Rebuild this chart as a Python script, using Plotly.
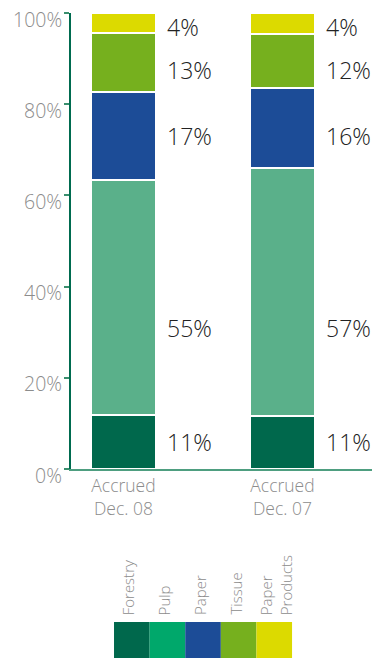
import plotly.graph_objects as go

# ---------------- data ----------------
categories = ["Accrued<br>Dec. 08", "Accrued<br>Dec. 07"]
segments = ["Forestry", "Pulp", "Paper", "Tissue", "Paper<br>Products"]
share_dec08 = [11.8, 51.6, 19.3, 12.9, 4.4]
share_dec07 = [11.7, 54.4, 17.5, 11.8, 4.6]
label_dec08 = ["11%", "55%", "17%", "13%", "4%"]
label_dec07 = ["11%", "57%", "16%", "12%", "4%"]
tick_vals = [0, 20, 40, 60, 80, 100]
tick_text = ["0%", "20%", "40%", "60%", "80%", "100%"]

# ---------------- style ----------------
bar_colors = ["#00684C", "#5AB08A", "#1C4C97", "#76B01E", "#DCDA00"]
legend_colors = ["#00684C", "#00A86B", "#1C4C97", "#76B01E", "#DCDA00"]
FONT = "Open Sans, Liberation Sans, Arial, sans-serif"
GRAY = "#8C8C8C"
label_yshift = [0, -33, -4, -8, -4]

fig = go.Figure()
series = [share_dec08, share_dec07]
for i, seg in enumerate(segments):
    fig.add_trace(go.Bar(
        x=categories,
        y=[s[i] for s in series],
        name=seg.replace("<br>", " "),
        width=0.409,
        marker=dict(color=bar_colors[i], line=dict(color="white", width=2)),
        hoverinfo="skip",
    ))

# label vertical anchor: mean of segment centres across the two bars
centres = []
for s in series:
    cum, c = 0, []
    for v in s:
        c.append(cum + v / 2)
        cum += v
    centres.append(c)
label_y = [(a + b) / 2 for a, b in zip(*centres)]

annotations = []
for cat, labels in zip(categories, [label_dec08, label_dec07]):
    for i, txt in enumerate(labels):
        annotations.append(dict(
            x=cat, y=label_y[i], xref="x", yref="y", text=txt,
            showarrow=False, xanchor="left", yanchor="middle",
            xshift=42, yshift=label_yshift[i],
            font=dict(family=FONT, size=23, color="#222222", weight=300),
        ))

# y tick labels (drawn as text so they can sit slightly below each tick)
for v, t in zip(tick_vals, tick_text):
    annotations.append(dict(
        x=0, y=v, xref="paper", yref="y", text=t, showarrow=False,
        xanchor="right", yanchor="middle", xshift=-7, yshift=-6,
        font=dict(family=FONT, size=19.5, color=GRAY, weight=300),
    ))

# legend: coloured squares with rotated labels
sq_x0, sq_w = 0.1429, 0.1183
sq_y0, sq_y1 = -0.3355, -0.43
leg_xshift = [-3, -3, -3, -3, 2]
shapes = []
for i, seg in enumerate(segments):
    x0 = sq_x0 + i * sq_w
    shapes.append(dict(type="rect", xref="paper", yref="paper",
                       x0=x0, x1=x0 + sq_w, y0=sq_y1, y1=sq_y0,
                       fillcolor=legend_colors[i], line=dict(width=0)))
    annotations.append(dict(
        x=x0 + sq_w / 2, y=sq_y0 + 0.011, xref="paper", yref="paper",
        text=seg, showarrow=False, textangle=-90, align="left",
        xanchor="center", yanchor="bottom", xshift=leg_xshift[i],
        font=dict(family=FONT, size=15, color=GRAY, weight=300),
    ))

fig.update_layout(
    width=377, height=658,
    margin=dict(l=71, r=5, t=13, b=189),
    barmode="stack",
    showlegend=False,
    plot_bgcolor="white", paper_bgcolor="white",
    annotations=annotations, shapes=shapes,
    xaxis=dict(
        type="category", range=[-0.33, 1.563],
        showline=True, linecolor="#4E9E80", linewidth=1.5,
        ticks="", showgrid=False,
        tickfont=dict(family=FONT, size=17.5, color=GRAY, weight=300),
    ),
    yaxis=dict(
        range=[0, 100], tickvals=tick_vals, showticklabels=False,
        ticks="outside", ticklen=5, tickwidth=1.5, tickcolor="#3A8F6E",
        showline=True, linecolor="#006B4F", linewidth=1.5,
        showgrid=False, zeroline=False,
    ),
)

fig.write_html("out.html")
